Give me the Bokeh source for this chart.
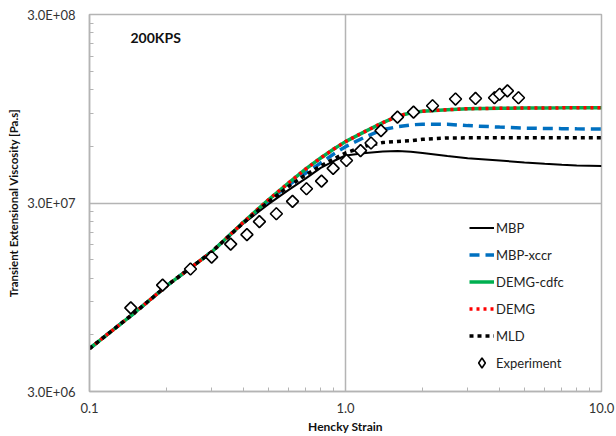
import numpy as np
from bokeh.plotting import figure
from bokeh.models import (FixedTicker, CustomJSTickFormatter, Legend, LegendItem, Label)
from bokeh.embed import file_html
from bokeh.resources import INLINE

# ---- data ----
strain = [0.1, 0.15, 0.2, 0.3, 0.4, 0.5, 0.6, 0.7, 0.8, 0.9, 1.0, 1.2, 1.4, 1.6,
          1.8, 2.0, 2.5, 3.0, 4.0, 5.0, 6.0, 7.0, 8.0, 10.0]

mbp = [5.07e6, 7.85e6, 1.09e7, 1.65e7, 2.34e7, 2.96e7, 3.52e7, 4.05e7, 4.61e7,
       5.01e7, 5.36e7, 5.53e7, 5.63e7, 5.66e7, 5.61e7, 5.53e7, 5.33e7, 5.18e7,
       5.04e7, 4.92e7, 4.84e7, 4.78e7, 4.75e7, 4.72e7]

mbp_xccr = [5.07e6, 7.85e6, 1.09e7, 1.65e7, 2.37e7, 3.08e7, 3.74e7, 4.33e7, 4.89e7,
            5.46e7, 5.97e7, 6.75e7, 7.35e7, 7.62e7, 7.79e7, 7.86e7, 7.85e7, 7.72e7,
            7.58e7, 7.49e7, 7.46e7, 7.44e7, 7.42e7, 7.40e7]

demg_cdfc = [5.07e6, 7.85e6, 1.09e7, 1.65e7, 2.38e7, 3.12e7, 3.84e7, 4.55e7, 5.20e7,
             5.80e7, 6.35e7, 7.22e7, 8.01e7, 8.66e7, 9.04e7, 9.21e7, 9.38e7, 9.49e7,
             9.55e7, 9.57e7, 9.58e7, 9.59e7, 9.60e7, 9.61e7]

demg = [5.07e6, 7.85e6, 1.09e7, 1.65e7, 2.38e7, 3.12e7, 3.84e7, 4.55e7, 5.20e7,
        5.80e7, 6.35e7, 7.22e7, 8.01e7, 8.66e7, 9.04e7, 9.21e7, 9.38e7, 9.49e7,
        9.55e7, 9.57e7, 9.58e7, 9.59e7, 9.60e7, 9.61e7]

mld = [5.07e6, 7.85e6, 1.09e7, 1.65e7, 2.36e7, 3.04e7, 3.68e7, 4.23e7, 4.72e7,
       5.14e7, 5.53e7, 6.02e7, 6.28e7, 6.36e7, 6.42e7, 6.53e7, 6.64e7, 6.65e7,
       6.65e7, 6.65e7, 6.65e7, 6.65e7, 6.65e7, 6.65e7]

exp_strain = [0.145, 0.193, 0.248, 0.300, 0.356, 0.412, 0.461, 0.537, 0.621, 0.704,
              0.806, 0.895, 1.009, 1.145, 1.258, 1.376, 1.596, 1.844, 2.188, 2.69,
              3.22, 3.82, 4.00, 4.29, 4.74]
exp_visc = [8.33e6, 1.10e7, 1.34e7, 1.55e7, 1.815e7, 2.04e7, 2.39e7, 2.63e7, 3.06e7,
            3.57e7, 3.92e7, 4.58e7, 5.04e7, 5.69e7, 6.24e7, 7.26e7, 8.56e7, 9.10e7,
            9.84e7, 1.068e8, 1.076e8, 1.085e8, 1.133e8, 1.18e8, 1.085e8]

x_major = [0.1, 1.0, 10.0]
x_minor = [0.2, 0.3, 0.4, 0.5, 0.6, 0.7, 0.8, 0.9, 2, 3, 4, 5, 6, 7, 8, 9]
y_major = [3e6, 3e7, 3e8]
y_minor = [6e6, 9e6, 1.2e7, 1.5e7, 1.8e7, 2.1e7, 2.4e7, 2.7e7,
           6e7, 9e7, 1.2e8, 1.5e8, 1.8e8, 2.1e8, 2.4e8, 2.7e8]

FONT = "Lato"
GRID = "#b4b4b4"

p = figure(width=616, height=436, x_axis_type="log", y_axis_type="log",
           x_range=(0.1, 10.0), y_range=(3e6, 3e8),
           output_backend="svg", toolbar_location=None,
           min_border_left=89, min_border_right=15, min_border_top=14, min_border_bottom=44)

p.background_fill_color = "white"
p.outline_line_color = GRID
p.outline_line_width = 1.5

p.xaxis.ticker = FixedTicker(ticks=x_major, minor_ticks=x_minor)
p.yaxis.ticker = FixedTicker(ticks=y_major, minor_ticks=y_minor)
p.xaxis.formatter = CustomJSTickFormatter(code="return tick.toFixed(1);")
p.yaxis.formatter = CustomJSTickFormatter(code="""
const e = Math.floor(Math.log10(tick) + 1e-9);
const m = tick / Math.pow(10, e);
return m.toFixed(1) + "E+" + String(e).padStart(2, "0");
""")

for ax in (p.xaxis[0], p.yaxis[0]):
    ax.axis_line_color = GRID
    ax.axis_line_width = 1.5
    ax.major_tick_line_color = GRID
    ax.minor_tick_line_color = GRID
    ax.major_tick_in = 4
    ax.major_tick_out = 0
    ax.minor_tick_in = 4
    ax.minor_tick_out = 0
    ax.major_label_text_font = FONT
    ax.major_label_text_font_size = "13px"
    ax.major_label_text_color = "#333333"
    ax.axis_label_text_font = FONT
    ax.axis_label_text_font_style = "bold"
    ax.axis_label_text_font_size = "12px"
    ax.axis_label_text_color = "#111111"

p.yaxis.axis_label_text_font_size = "11.5px"
p.xaxis.axis_label = "Hencky Strain"
p.yaxis.axis_label = "Transient Extensional Viscosity [Pa.s]"
p.xaxis.major_label_standoff = 11
p.xaxis.axis_label_standoff = 3
p.yaxis.major_label_standoff = 14
p.yaxis.axis_label_standoff = 4

p.xgrid.ticker = FixedTicker(ticks=x_major)
p.ygrid.ticker = FixedTicker(ticks=y_major)
p.grid.grid_line_color = GRID
p.grid.grid_line_width = 1.5

r_mbp = p.line(strain, mbp, line_color="black", line_width=2)
r_xccr = p.line(strain, mbp_xccr, line_color="#0070C0", line_width=3.5, line_dash="10 6")
r_cdfc = p.line(strain, demg_cdfc, line_color="#00B050", line_width=3.5)
r_demg = p.line(strain, demg, line_color="#FF0000", line_width=3.5, line_dash="3 4")
r_mld = p.line(strain, mld, line_color="black", line_width=3.5, line_dash="4 4")
# diamond-shaped copy underneath (used for the legend symbol, hidden by the squares)
r_exp_leg = p.scatter(exp_strain, exp_visc, marker="diamond", size=11,
                      fill_color="white", line_color="black", line_width=1.6)
r_exp = p.scatter(exp_strain, exp_visc, marker="square", angle=np.pi / 4, size=8.5,
                  fill_color="white", line_color="black", line_width=1.6)

legend = Legend(items=[
    LegendItem(label="MBP", renderers=[r_mbp]),
    LegendItem(label="MBP-xccr", renderers=[r_xccr]),
    LegendItem(label="DEMG-cdfc", renderers=[r_cdfc]),
    LegendItem(label="DEMG", renderers=[r_demg]),
    LegendItem(label="MLD", renderers=[r_mld]),
    LegendItem(label="Experiment", renderers=[r_exp_leg]),
], location=(380, 16))
legend.border_line_color = None
legend.background_fill_alpha = 0
legend.padding = 0
legend.margin = 0
legend.spacing = 2
legend.glyph_width = 25
legend.glyph_height = 25
legend.label_standoff = 2
legend.label_text_font = FONT
legend.label_text_font_size = "13px"
legend.label_text_color = "#222222"
p.add_layout(legend)

p.add_layout(Label(x=0.1446, y=2.26e8, text="200KPS", text_font=FONT,
                   text_font_style="bold", text_font_size="14px",
                   text_baseline="middle", text_color="#111111"))

open("out.html", "w").write(file_html(p, INLINE))
